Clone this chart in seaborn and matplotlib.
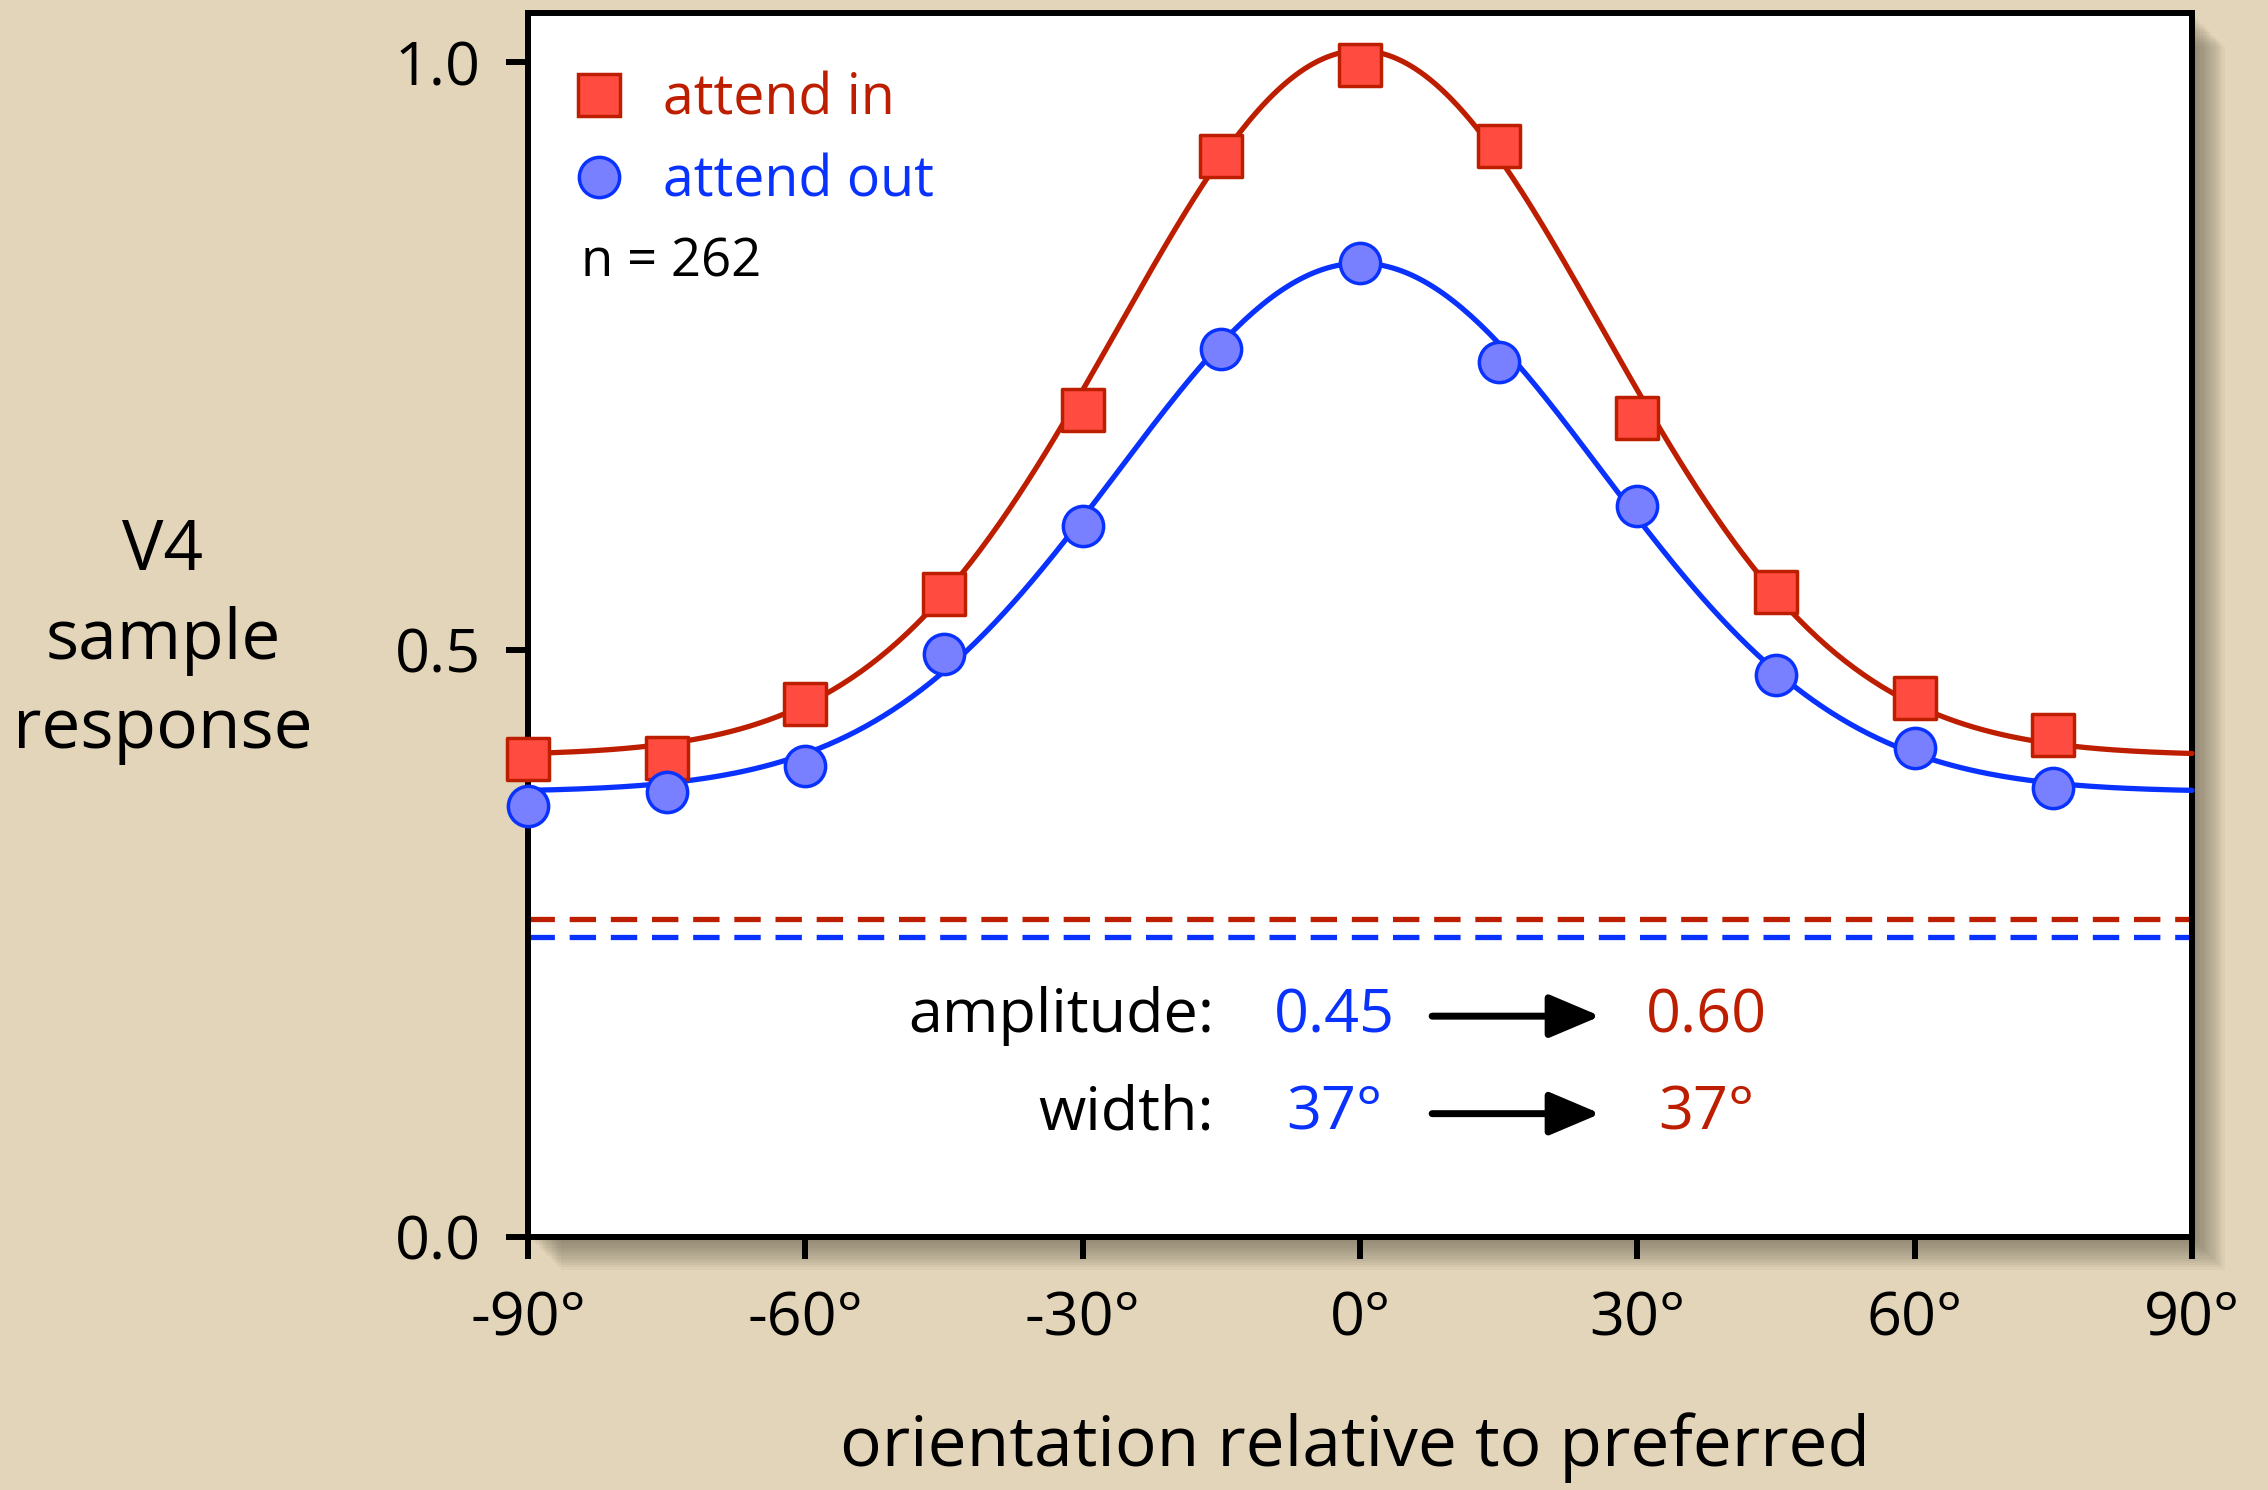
import numpy as np
import pandas as pd
import seaborn as sns
import matplotlib.pyplot as plt
from matplotlib.patches import Rectangle
from matplotlib.lines import Line2D

# orientation of the test stimulus relative to the preferred one (deg)
orientation = [-90, -75, -60, -45, -30, -15, 0, 15, 30, 45, 60, 75]
attend_in = [0.407, 0.408, 0.454, 0.547, 0.704, 0.920, 0.998, 0.929, 0.697, 0.549, 0.459, 0.427]
attend_out = [0.367, 0.379, 0.401, 0.496, 0.605, 0.756, 0.829, 0.745, 0.622, 0.478, 0.416, 0.382]
sem_in = [0.012, 0.012, 0.012, 0.014, 0.014, 0.014, 0.012, 0.014, 0.014, 0.014, 0.014, 0.016]
sem_out = [0.012, 0.012, 0.012, 0.014, 0.014, 0.014, 0.014, 0.014, 0.014, 0.014, 0.016, 0.012]

# gaussian fits: baseline, amplitude, width
fit_in = (0.41, 0.60, 37)
fit_out = (0.379, 0.45, 37)
# dashed lines (spontaneous rate)
spont_in = 0.271
spont_out = 0.255

xtick_vals = [-90, -60, -30, 0, 30, 60, 90]
xtick_labels = ['-90°', '-60°', '-30°', '0°', '30°', '60°', '90°']
ytick_vals = [0.0, 0.5, 1.0]

RED = '#be1e00'
RED_FACE = '#ff4b40'
BLUE = '#0a32ff'
BLUE_FACE = '#7880ff'
BG = '#e3d5b9'

sns.set_theme(style='white')
plt.rcParams['font.family'] = ['Open Sans', 'DejaVu Sans']
plt.rcParams['text.color'] = 'black'

fig = plt.figure(figsize=(22.68, 14.9), dpi=100, facecolor=BG)
ax = fig.add_axes([0.2328, 0.1698, 0.9665 - 0.2328, 0.9913 - 0.1698])

# soft drop shadow behind the plot box
bb = ax.get_position()
W, H = fig.get_size_inches() * fig.dpi
for k in range(14):
    off = 4 + k * 2.2
    r = Rectangle((bb.x0 * W + off, bb.y0 * H - off), bb.width * W, bb.height * H,
                  transform=None, facecolor='#5e5648', edgecolor='none',
                  alpha=0.055, zorder=-1)
    fig.patches.append(r)

xs = np.linspace(-90, 90, 361)
curves = pd.DataFrame({
    'x': np.concatenate([xs, xs]),
    'y': np.concatenate([fit_in[0] + fit_in[1] * np.exp(-(xs / fit_in[2]) ** 2),
                         fit_out[0] + fit_out[1] * np.exp(-(xs / fit_out[2]) ** 2)]),
    'cond': ['in'] * len(xs) + ['out'] * len(xs),
})
sns.lineplot(data=curves, x='x', y='y', hue='cond', palette={'in': RED, 'out': BLUE},
             linewidth=3.8, legend=False, ax=ax, zorder=3, clip_on=False)

ax.axhline(spont_in, color=RED, lw=3.8, ls=(0, (5, 2.8)), zorder=2)
ax.axhline(spont_out, color=BLUE, lw=3.8, ls=(0, (5, 2.8)), zorder=2)

ax.errorbar(orientation, attend_in, yerr=sem_in, fmt='none', ecolor=RED,
            elinewidth=2.5, capsize=0, zorder=4, clip_on=False)
ax.errorbar(orientation, attend_out, yerr=sem_out, fmt='none', ecolor=BLUE,
            elinewidth=2.5, capsize=0, zorder=4, clip_on=False)

pts = pd.DataFrame({'x': orientation, 'in': attend_in, 'out': attend_out})
sns.scatterplot(data=pts, x='x', y='in', marker='s', s=30 ** 2, color=RED_FACE,
                edgecolor=RED, linewidth=2.5, ax=ax, zorder=5, clip_on=False)
sns.scatterplot(data=pts, x='x', y='out', marker='o', s=29 ** 2, color=BLUE_FACE,
                edgecolor=BLUE, linewidth=2.5, ax=ax, zorder=5, clip_on=False)

ax.set_xlim(-90, 90)
ax.set_ylim(0, 1.042)
ax.set_xticks(xtick_vals)
ax.set_xticklabels(xtick_labels)
ax.set_yticks(ytick_vals)
ax.set_yticklabels(['0.0', '0.5', '1.0'])
ax.tick_params(axis='both', which='major', direction='out', length=16, width=4.3,
               color='black', labelsize=44, labelcolor='black', left=True, bottom=True)
ax.tick_params(axis='y', pad=18)
ax.tick_params(axis='x', pad=22)
ax.set_xlabel('')
ax.set_ylabel('')
for sp in ax.spines.values():
    sp.set_visible(True)
    sp.set_color('black')
    sp.set_linewidth(4.3)
ax.set_facecolor('white')

handles = [
    Line2D([], [], marker='s', ls='none', markersize=30, markerfacecolor=RED_FACE,
           markeredgecolor=RED, markeredgewidth=2.5),
    Line2D([], [], marker='o', ls='none', markersize=29, markerfacecolor=BLUE_FACE,
           markeredgecolor=BLUE, markeredgewidth=2.5),
]
ax.legend(handles, ['attend in', 'attend out'], loc='upper left',
          bbox_to_anchor=(-0.004, 0.97), frameon=False, fontsize=40,
          labelcolor=[RED, BLUE], handletextpad=0.15, labelspacing=0.45,
          borderaxespad=0)
ax.text(-84.3, 0.829, 'n = 262', fontsize=38, color='black', va='center', ha='left')

# fit parameter annotation
ax.text(-15.8, 0.188, 'amplitude:', fontsize=44, ha='right', va='center')
ax.text(-2.8, 0.188, '0.45', fontsize=44, ha='center', va='center', color=BLUE)
ax.text(37.5, 0.188, '0.60', fontsize=44, ha='center', va='center', color=RED)
ax.text(-15.8, 0.105, 'width:', fontsize=44, ha='right', va='center')
ax.text(-2.8, 0.105, '37°', fontsize=44, ha='center', va='center', color=BLUE)
ax.text(37.5, 0.105, '37°', fontsize=44, ha='center', va='center', color=RED)
for yy in (0.188, 0.105):
    ax.annotate('', xy=(26, yy), xytext=(7.8, yy),
                arrowprops=dict(arrowstyle='-|>,head_length=2.6,head_width=1.1',
                                color='black', lw=5, shrinkA=0, shrinkB=0))

fig.text(163 / W, 1 - 641 / H, 'V4\nsample\nresponse', fontsize=50, ha='center',
         va='center', linespacing=1.35)
fig.text(1355 / W, 1 - 1448 / H, 'orientation relative to preferred', fontsize=50,
         ha='center', va='center')

fig.savefig('out.png', dpi=100, facecolor=BG)
